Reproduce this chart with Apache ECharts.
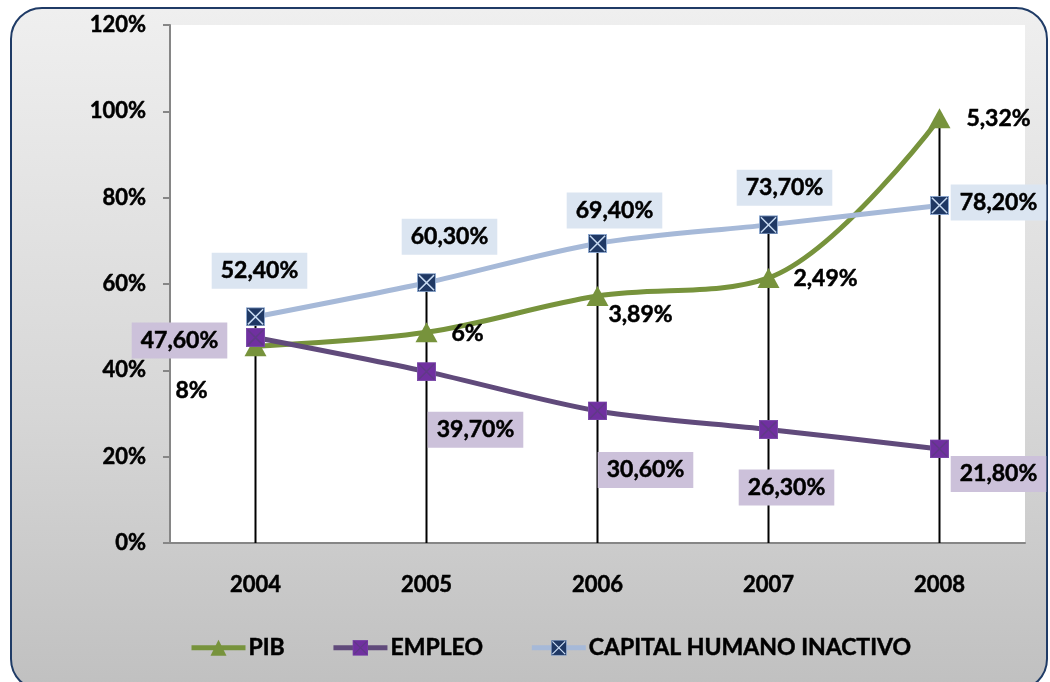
<!DOCTYPE html>
<html>
<head>
<meta charset="utf-8">
<script src="https://cdn.jsdelivr.net/npm/echarts@6/dist/echarts.min.js"></script>
<style>
    html, body { margin: 0; padding: 0; background: #ffffff; }
    .frame {
        position: absolute;
        left: 10px; top: 7px;
        width: 1034px; height: 680px;
        border: 2px solid #1f3b66;
        border-radius: 32px;
        background: linear-gradient(to bottom, #efefef 0%, #d6d6d6 60%, #c0c0c0 100%);
    }
    #chart { position: absolute; left: 0; top: 0; width: 1050px; height: 682px; }
</style>
</head>
<body>
<div class="frame"></div>
<div id="chart"></div>
<script>
const years = ['2004', '2005', '2006', '2007', '2008'];
const pib = [45.6, 48.8, 57.2, 61.4, 98.4];
const pibLabels = ['8%', '6%', '3,89%', '2,49%', '5,32%'];
const empleo = [47.6, 39.7, 30.6, 26.3, 21.8];
const capital = [52.4, 60.3, 69.4, 73.7, 78.2];
const yTicks = [0, 20, 40, 60, 80, 100, 120];

// desplazamiento de cada etiqueta respecto a su punto
const pibOffsets = [[-64, 44], [41, 1], [43, 18], [57, 1], [59, 0]];
const empleoOffsets = [[-76, 3], [49, 58], [48, 59], [18, 58], [59, 25]];
const capitalOffsets = [[4, -46], [23, -46], [17, -33], [16, -37], [59, -3]];

// linea vertical hasta el eje: el mayor valor de cada año
const dropValues = years.map((y, i) => Math.max(pib[i], empleo[i], capital[i]));

function boxSymbol(fill, cross, edge) {
    const svg = '<svg xmlns="http://www.w3.org/2000/svg" width="20" height="20" viewBox="0 0 20 20">' +
        '<rect x="0.5" y="0.5" width="19" height="19" fill="' + fill + '" stroke="' + edge + '" stroke-width="1"/>' +
        '<path d="M2 2 L18 18 M18 2 L2 18" stroke="' + cross + '" stroke-width="1.6"/></svg>';
    return 'image://data:image/svg+xml;charset=utf-8,' + encodeURIComponent(svg);
}

const labelFont = {
    fontFamily: 'Lato, "Open Sans", sans-serif',
    fontWeight: 'bold',
    fontSize: 23,
    color: '#000000',
    textBorderColor: '#000000',
    textBorderWidth: 0.5,
};

function labelled(values, offsets, texts, bg) {
    return values.map((v, i) => ({
        value: v,
        label: {
            show: true,
            position: 'inside',
            offset: offsets[i],
            align: 'center',
            verticalAlign: 'middle',
            formatter: texts ? texts[i] : v.toFixed(2).replace('.', ',') + '%',
            backgroundColor: bg || 'transparent',
            padding: bg ? [7, 9, 6, 9] : 0,
            ...labelFont,
        },
    }));
}

const chart = echarts.init(document.getElementById('chart'));
const option = {
    backgroundColor: 'transparent',
    animation: false,
    grid: {
        left: 170,
        right: 25,
        top: 25,
        bottom: 139,
        show: true,
        backgroundColor: '#ffffff',
        borderWidth: 0,
    },
    legend: {
        data: [
            { name: 'PIB' },
            { name: 'EMPLEO' },
            { name: 'CAPITAL HUMANO INACTIVO' },
        ],
        left: 184,
        top: 631,
        itemWidth: 54,
        itemHeight: 20,
        itemGap: 46,
        lineStyle: { width: 5 },
        textStyle: { ...labelFont, fontSize: 23, padding: [0, 0, 0, -2] },
    },
    xAxis: {
        type: 'category',
        data: years,
        boundaryGap: true,
        axisLine: { show: true, lineStyle: { color: '#868686', width: 2 } },
        axisTick: { show: false },
        axisLabel: { ...labelFont, fontSize: 22, margin: 31 },
        splitLine: { show: false },
    },
    yAxis: {
        type: 'value',
        min: yTicks[0],
        max: yTicks[yTicks.length - 1],
        interval: 20,
        axisLine: { show: true, lineStyle: { color: '#868686', width: 2 } },
        axisTick: { show: true, length: 7, lineStyle: { color: '#868686', width: 2 } },
        axisLabel: { ...labelFont, fontSize: 22, margin: 24, formatter: '{value}%' },
        splitLine: { show: false },
    },
    series: [
        {
            name: 'drop',
            type: 'bar',
            data: dropValues,
            barWidth: 2,
            itemStyle: { color: '#000000' },
            z: 1,
            silent: true,
        },
        {
            name: 'PIB',
            type: 'line',
            data: labelled(pib, pibOffsets, pibLabels, null),
            smooth: 0.35,
            symbol: 'triangle',
            symbolSize: [22, 20],
            itemStyle: { color: '#77933c' },
            lineStyle: { color: '#77933c', width: 5 },
            z: 3,
        },
        {
            name: 'EMPLEO',
            type: 'line',
            data: labelled(empleo, empleoOffsets, null, '#ccc1da'),
            smooth: 0.3,
            symbol: boxSymbol('#7030a0', '#5f3a86', '#7a4aa8'),
            symbolSize: 19,
            itemStyle: { color: '#7030a0' },
            lineStyle: { color: '#604a7b', width: 5 },
            z: 4,
        },
        {
            name: 'CAPITAL HUMANO INACTIVO',
            type: 'line',
            data: labelled(capital, capitalOffsets, null, '#dbe5f1'),
            smooth: 0.3,
            symbol: boxSymbol('#1f3864', '#c6d9f1', '#8ea9d0'),
            symbolSize: 19,
            itemStyle: { color: '#1f3864' },
            lineStyle: { color: '#a6b9d8', width: 5 },
            z: 5,
        },
    ],
};
chart.setOption(option);
</script>
</body>
</html>
